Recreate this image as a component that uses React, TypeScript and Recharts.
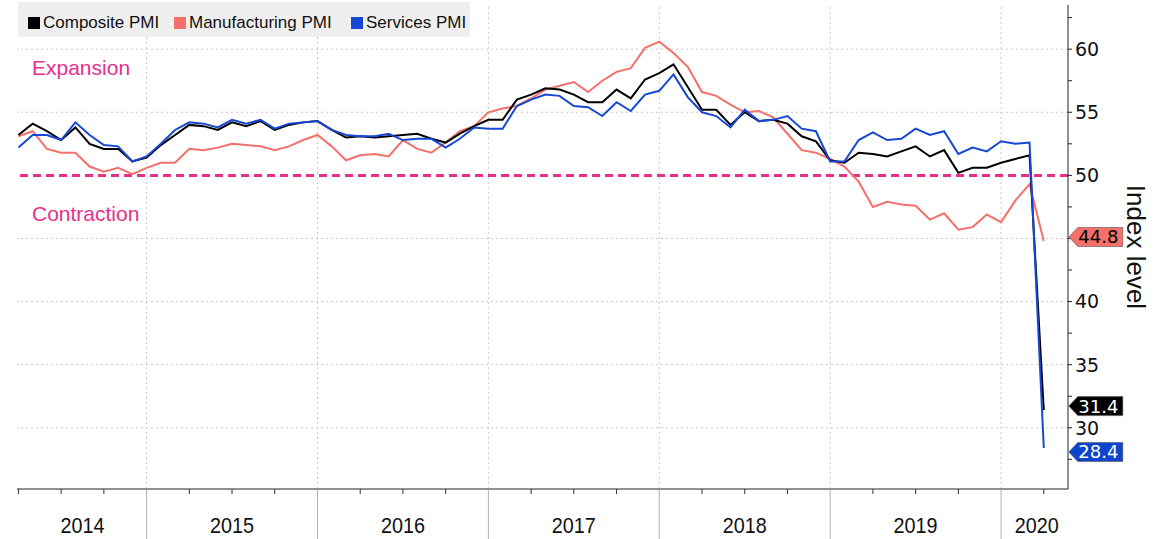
import React from 'react';
import { LineChart, Line, XAxis, YAxis, ReferenceLine, Legend } from 'recharts';

const months = [
  'Apr 2014', 'May 2014', 'Jun 2014', 'Jul 2014', 'Aug 2014', 'Sep 2014', 'Oct 2014', 'Nov 2014', 'Dec 2014',
  'Jan 2015', 'Feb 2015', 'Mar 2015', 'Apr 2015', 'May 2015', 'Jun 2015', 'Jul 2015', 'Aug 2015', 'Sep 2015', 'Oct 2015', 'Nov 2015', 'Dec 2015',
  'Jan 2016', 'Feb 2016', 'Mar 2016', 'Apr 2016', 'May 2016', 'Jun 2016', 'Jul 2016', 'Aug 2016', 'Sep 2016', 'Oct 2016', 'Nov 2016', 'Dec 2016',
  'Jan 2017', 'Feb 2017', 'Mar 2017', 'Apr 2017', 'May 2017', 'Jun 2017', 'Jul 2017', 'Aug 2017', 'Sep 2017', 'Oct 2017', 'Nov 2017', 'Dec 2017',
  'Jan 2018', 'Feb 2018', 'Mar 2018', 'Apr 2018', 'May 2018', 'Jun 2018', 'Jul 2018', 'Aug 2018', 'Sep 2018', 'Oct 2018', 'Nov 2018', 'Dec 2018',
  'Jan 2019', 'Feb 2019', 'Mar 2019', 'Apr 2019', 'May 2019', 'Jun 2019', 'Jul 2019', 'Aug 2019', 'Sep 2019', 'Oct 2019', 'Nov 2019', 'Dec 2019',
  'Jan 2020', 'Feb 2020', 'Mar 2020', 'Apr 2020',
];

const composite = [
  53.2, 54.1, 53.5, 52.8, 53.8, 52.5, 52.1, 52.1, 51.1,
  51.4, 52.4, 53.2, 54.0, 53.9, 53.6, 54.2, 53.9, 54.3, 53.6, 54.0, 54.2,
  54.3, 53.6, 53.0, 53.1, 53.0, 53.1, 53.2, 53.3, 52.9, 52.6, 53.3, 53.9,
  54.4, 54.4, 56.0, 56.4, 56.9, 56.8, 56.4, 55.8, 55.8, 56.8, 56.1, 57.6,
  58.1, 58.8, 57.0, 55.2, 55.2, 54.0, 55.0, 54.3, 54.4, 54.1, 53.1, 52.7,
  51.2, 51.0, 51.8, 51.7, 51.5, 51.9, 52.3, 51.5, 52.0, 50.2, 50.6, 50.6,
  51.0, 51.3, 51.6, 31.4,
];

const manufacturing = [
  53.1, 53.5, 52.1, 51.8, 51.8, 50.7, 50.3, 50.6, 50.1,
  50.6, 51.0, 51.0, 52.1, 52.0, 52.2, 52.5, 52.4, 52.3, 52.0, 52.3, 52.8,
  53.2, 52.3, 51.2, 51.6, 51.7, 51.5, 52.8, 52.1, 51.8, 52.6, 53.5, 53.9,
  55.0, 55.3, 55.5, 56.1, 56.8, 57.1, 57.4, 56.6, 57.5, 58.2, 58.5, 60.1,
  60.6, 59.7, 58.6, 56.6, 56.3, 55.6, 55.0, 55.1, 54.6, 53.3, 52.0, 51.8,
  51.3, 50.7, 49.5, 47.5, 47.9, 47.7, 47.6, 46.5, 47.0, 45.7, 45.9, 46.9,
  46.3, 48.0, 49.3, 44.8,
];

const services = [
  52.2, 53.2, 53.2, 52.8, 54.2, 53.2, 52.4, 52.3, 51.1,
  51.5, 52.5, 53.6, 54.2, 54.1, 53.8, 54.4, 54.1, 54.4, 53.7, 54.1, 54.2,
  54.3, 53.6, 53.2, 53.1, 53.1, 53.3, 52.8, 52.9, 52.9, 52.2, 52.9, 53.8,
  53.7, 53.7, 55.5, 56.0, 56.4, 56.3, 55.5, 55.4, 54.7, 55.8, 55.1, 56.4,
  56.7, 58.0, 56.2, 55.0, 54.7, 53.8, 55.2, 54.3, 54.4, 54.7, 53.7, 53.5,
  51.1, 51.1, 52.8, 53.4, 52.8, 52.9, 53.7, 53.2, 53.5, 51.7, 52.2, 51.9,
  52.7, 52.5, 52.6, 28.4,
];

const seriesNames = ['Composite PMI', 'Manufacturing PMI', 'Services PMI'];
const seriesColors = ['#000000', '#f4706b', '#1747d4'];
const labelFills = ['#000000', '#f4706b', '#0d45cc'];
const labelTextColors = ['#ffffff', '#000000', '#ffffff'];

const yearLabels = ['2014', '2015', '2016', '2017', '2018', '2019', '2020'];
const yearLabelPos = [4.5, 15, 27, 39, 51, 63, 71.5];
const yearStarts = [9, 21, 33, 45, 57, 69];
const quarterTicks = [0, 3, 6, 9, 12, 15, 18, 21, 24, 27, 30, 33, 36, 39, 42, 45, 48, 51, 54, 57, 60, 63, 66, 69, 72];
const yTicks = [27.5, 30, 32.5, 35, 37.5, 40, 42.5, 45, 47.5, 50, 52.5, 55, 57.5, 60, 62.5];
const yTickLabels = [30, 35, 40, 50, 55, 60];
const yGrid = [30, 35, 40, 45, 55, 60];
const thresholdLevel = 50;

const data = months.map((m, i) => ({
  i,
  month: m,
  composite: composite[i],
  manufacturing: manufacturing[i],
  services: services[i],
}));

const lastIdx = months.length - 1;
const xTicks = Array.from(new Set([...quarterTicks, ...yearLabelPos])).sort((a, b) => a - b);

const PINK = '#e6308d';
const GRID = '#c9c9c9';
const legendItemLeft = [10, 156, 333];

const XTick = (props: any) => {
  const { x, y, payload } = props;
  const v = payload.value;
  const parts: any[] = [];
  if (yearStarts.includes(v)) {
    parts.push(<line key="s" x1={x} x2={x} y1={y} y2={539} stroke="#b0b0b0" strokeWidth={1} />);
  } else if (quarterTicks.includes(v)) {
    parts.push(<line key="t" x1={x} x2={x} y1={y} y2={y + 5} stroke="#333" strokeWidth={1} />);
  }
  const li = yearLabelPos.indexOf(v);
  if (li >= 0) {
    parts.push(
      <text
        key="l"
        x={x}
        y={y + 44}
        textAnchor="middle"
        fontFamily="'Liberation Sans Narrow', 'Liberation Sans', Arial, sans-serif"
        fontSize={22}
        fill="#111"
        textLength={44}
        lengthAdjust="spacingAndGlyphs"
      >
        {yearLabels[li]}
      </text>
    );
  }
  return <g>{parts}</g>;
};

const YTick = (props: any) => {
  const { x, y, payload } = props;
  const v = payload.value;
  const labelled = yTickLabels.some((t) => Math.abs(t - v) < 0.001);
  return (
    <g>
      <line x1={x} x2={x + 4} y1={y} y2={y} stroke="#222" strokeWidth={1} />
      {labelled ? (
        <text x={x + 7} y={y} dy="0.36em" fontFamily="'DejaVu Sans', Verdana, sans-serif" fontSize={19} fill="#111">
          {v}
        </text>
      ) : null}
    </g>
  );
};

const makeEndLabel = (k: number, dy: number) => (p: any) => {
  if (p.index !== lastIdx) return <g />;
  const px = p.x ?? p.viewBox?.x;
  const py = p.y ?? p.viewBox?.y;
  const tip = px + 25;
  const cy = py + dy;
  const h = 19;
  const w = 54;
  return (
    <g>
      <path
        d={`M${tip},${cy} L${tip + 9},${cy - h / 2} L${tip + w},${cy - h / 2} L${tip + w},${cy + h / 2} L${tip + 9},${cy + h / 2} Z`}
        fill={labelFills[k]}
        stroke="#555"
        strokeWidth={0.6}
      />
      <text
        x={tip + 9.5}
        y={cy}
        dy="0.36em"
        fontFamily="'DejaVu Sans', Verdana, sans-serif"
        fontSize={18}
        fill={labelTextColors[k]}
      >
        {p.value}
      </text>
    </g>
  );
};

const ThresholdLabel = (props: any) => {
  const vb = props.viewBox || {};
  const x = vb.x ?? 0;
  const y = vb.y ?? 0;
  return (
    <g>
      <text x={x + 15} y={y - 100} fill={PINK} fontFamily="'Liberation Sans', Arial, sans-serif" fontSize={21}>
        Expansion
      </text>
      <text x={x + 15} y={y + 46} fill={PINK} fontFamily="'Liberation Sans', Arial, sans-serif" fontSize={21}>
        Contraction
      </text>
    </g>
  );
};

const AxisTitle = (props: any) => {
  const vb = props.viewBox || {};
  const cx = (vb.x ?? 0) + 68;
  const cy = (vb.y ?? 0) + (vb.height ?? 0) / 2;
  return (
    <text
      x={cx}
      y={cy}
      textAnchor="middle"
      dominantBaseline="central"
      transform={`rotate(90, ${cx}, ${cy})`}
      fontFamily="'Liberation Sans', Arial, sans-serif"
      fontSize={26}
      fill="#111"
    >
      Index level
    </text>
  );
};

const LegendContent = () => (
  <div
    style={{
      position: 'relative',
      background: '#efefef',
      width: 452,
      height: 35,
      fontFamily: "'Liberation Sans', Arial, sans-serif",
      fontSize: 17,
      lineHeight: '19px',
      color: '#111',
      whiteSpace: 'nowrap',
    }}
  >
    {seriesNames.map((n, k) => (
      <div
        key={n}
        style={{ position: 'absolute', left: legendItemLeft[k], top: 11, display: 'flex', alignItems: 'center', whiteSpace: 'nowrap' }}
      >
        <span style={{ display: 'inline-block', width: 12, height: 12, background: seriesColors[k], marginRight: 3, flexShrink: 0 }} />
        <span style={{ whiteSpace: 'nowrap' }}>{n}</span>
      </div>
    ))}
  </div>
);

export default function App() {
  return (
    <div style={{ position: 'absolute', left: 0, top: 0, width: 1168, height: 539, background: '#fff' }}>
      <LineChart width={1168} height={539} data={data} margin={{ top: 5, right: 0, bottom: 0, left: 17 }}>
        <XAxis
          dataKey="i"
          type="number"
          domain={[-0.1, 73.7]}
          ticks={xTicks}
          interval={0}
          tickLine={false}
          tickSize={0}
          tickMargin={0}
          height={50}
          axisLine={{ stroke: '#222', strokeWidth: 1 }}
          tick={<XTick />}
          allowDataOverflow
        />
        <YAxis
          orientation="right"
          type="number"
          domain={[25.15, 63.5]}
          ticks={yTicks}
          interval={0}
          width={100}
          tickLine={false}
          tickSize={0}
          tickMargin={0}
          axisLine={{ stroke: '#222', strokeWidth: 1 }}
          tick={<YTick />}
          allowDataOverflow
          label={<AxisTitle />}
        />
        {yGrid.map((g) => (
          <ReferenceLine key={'h' + g} y={g} stroke={GRID} strokeDasharray="2 3" strokeWidth={1} />
        ))}
        {yearStarts.map((s) => (
          <ReferenceLine key={'v' + s} x={s} stroke={GRID} strokeDasharray="2 3" strokeWidth={1} />
        ))}
        <ReferenceLine
          y={thresholdLevel}
          stroke={PINK}
          strokeWidth={3}
          strokeDasharray="8 5"
          label={<ThresholdLabel />}
        />
        <Legend
          layout="horizontal"
          verticalAlign="middle"
          align="center"
          wrapperStyle={{ top: 2, left: 18, width: 452, height: 35 }}
          content={<LegendContent />}
        />
        <Line
          dataKey="manufacturing"
          name={seriesNames[1]}
          stroke={seriesColors[1]}
          strokeWidth={2}
          dot={false}
          isAnimationActive={false}
          label={makeEndLabel(1, -4)}
        />
        <Line
          dataKey="composite"
          name={seriesNames[0]}
          stroke={seriesColors[0]}
          strokeWidth={2}
          dot={false}
          isAnimationActive={false}
          label={makeEndLabel(0, -4)}
        />
        <Line
          dataKey="services"
          name={seriesNames[2]}
          stroke={seriesColors[2]}
          strokeWidth={2}
          dot={false}
          isAnimationActive={false}
          label={makeEndLabel(2, 4)}
        />
      </LineChart>
    </div>
  );
}
